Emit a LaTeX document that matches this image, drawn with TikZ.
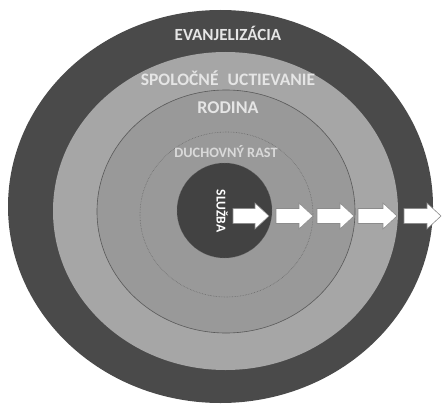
\documentclass[tikz,border=0pt]{standalone}
\usepackage{fontspec}
\setmainfont{Carlito}
\begin{document}
\begin{tikzpicture}[x=1pt,y=-1pt,
  lbl/.style={font=\bfseries\fontsize{17.5}{17.5}\selectfont, text=white!90!black, inner sep=0pt, anchor=center},
  smalllbl/.style={font=\bfseries\fontsize{14.3}{14.3}\selectfont, text=white!85!black, inner sep=0pt, anchor=center},
  blockarrow/.style={fill=white, draw=black!45, line width=0.6pt, line join=miter}
]
\useasboundingbox (0,0) rectangle (443,409);
\fill[white] (0,0) rectangle (443,409);
% rings
\fill[black!71] (220.5,206.5) ellipse [x radius=212.5, y radius=196.5];
\fill[black!35] (225.5,211) ellipse [x radius=172.5, y radius=159];
\fill[black!40] (226,211.5) ellipse [x radius=129, y radius=121.5];
\draw[black!65, line width=0.6pt] (226,211.5) ellipse [x radius=129, y radius=121.5];
\draw[black!58, line width=0.6pt, densely dotted] (226.5,214.5) ellipse [x radius=86.5, y radius=82.5];
\fill[black!74] (224.5,210.5) circle [radius=47.5];
\draw[black!60, line width=0.5pt, densely dotted] (224.5,210.5) circle [radius=47.5];
% labels
\node[lbl, font=\bfseries\fontsize{17}{17}\selectfont] (evan) at (228,33) {EVANJELIZÁCIA};
\node[lbl] (spol) at (228,78) {SPOLOČNÉ\hspace{0.3em} UCTIEVANIE};
\node[lbl, font=\bfseries\fontsize{18}{18}\selectfont] (rod) at (228,108) {RODINA};
\node[smalllbl] (duch) at (226,152) {DUCHOVNÝ RAST};
\node[smalllbl, text=white, font=\bfseries\fontsize{13.5}{13.5}\selectfont, rotate=-90] (sluz) at (222,211) {SLUŽBA};
% arrows
\foreach \a/\b [count=\i] in {233/269, 276/313, 317/354, 358/397, 404/441}{
  \draw[blockarrow] (\a,208.5) -- ({\b-14},208.5) -- ({\b-14},203) -- (\b,216)
     -- ({\b-14},229) -- ({\b-14},223.5) -- (\a,223.5) -- cycle;
}
\end{tikzpicture}
\end{document}
